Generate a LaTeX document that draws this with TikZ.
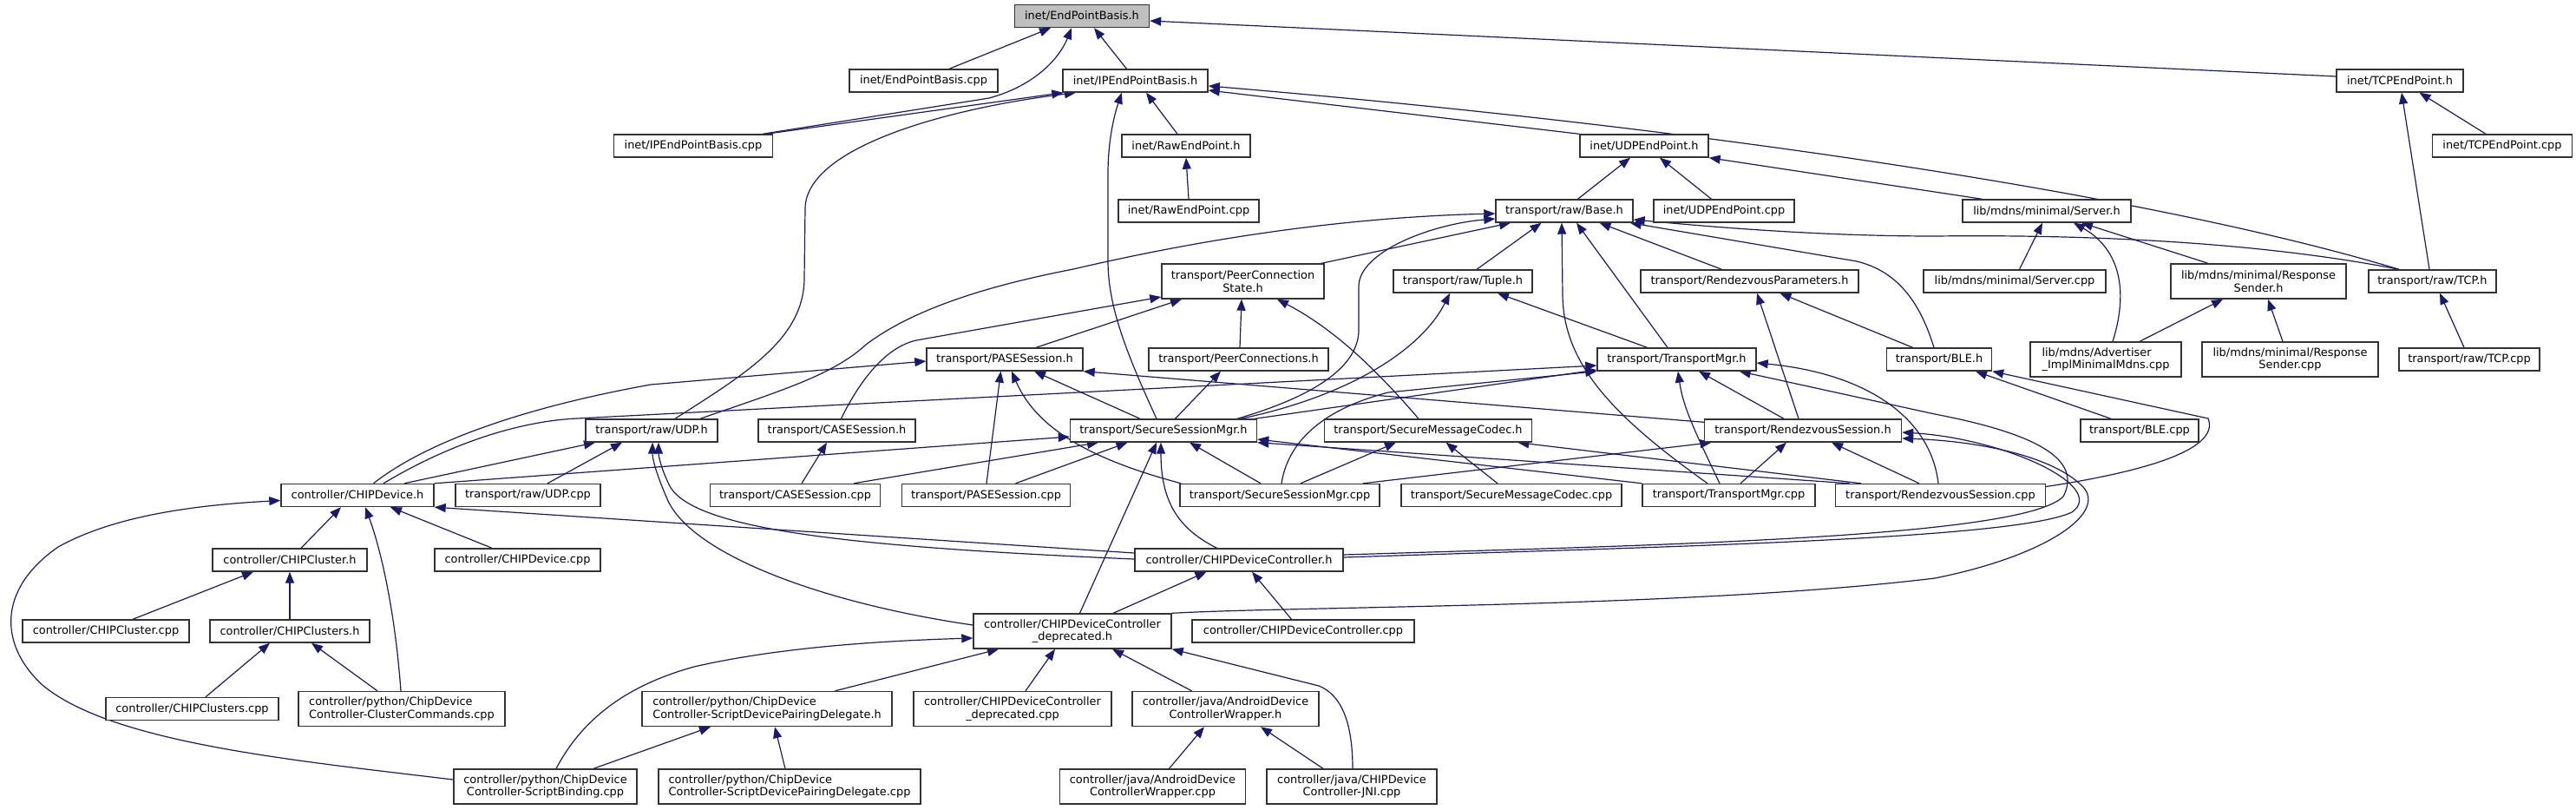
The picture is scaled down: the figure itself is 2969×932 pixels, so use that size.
\documentclass[tikz,border=0pt]{standalone}
\usepackage{fontspec}
\setmainfont{DejaVu Sans}
\usetikzlibrary{arrows.meta,calc,backgrounds}
\definecolor{navyc}{RGB}{25,25,112}
\definecolor{greyroot}{RGB}{191,191,191}
\newcommand{\dxfont}{\fontsize{12.9}{14.5}\selectfont}
\tikzset{
  box/.style={draw=black!80, line width=1.4pt, fill=white, inner sep=0pt, minimum height=26pt, font=\dxfont},
  boxc/.style={box, minimum height=40pt, align=center},
  boxl/.style={box, minimum height=40pt, align=left},
  edge/.style={draw=navyc, line width=1.2pt, -{Triangle[length=13pt,width=10pt]}},
}
\begin{document}
\begin{tikzpicture}[x=1pt,y=-1pt]
\useasboundingbox (0,0) rectangle (2969,932);
% row 1
\node[box, fill=greyroot, minimum width=155pt] (E) at (1247,18.5) {inet/EndPointBasis.h};
% row 2
\node[box, minimum width=171pt] (EPcpp) at (1064.5,93) {inet/EndPointBasis.cpp};
\node[box, minimum width=167pt] (IP) at (1308.5,93) {inet/IPEndPointBasis.h};
\node[box, minimum width=146pt] (TCPh) at (2766,93) {inet/TCPEndPoint.h};
% row 3
\node[box, minimum width=183pt] (IPcpp) at (799,168) {inet/IPEndPointBasis.cpp};
\node[box, minimum width=148pt] (RawH) at (1367,168) {inet/RawEndPoint.h};
\node[box, minimum width=148pt] (UDPEh) at (1895,168) {inet/UDPEndPoint.h};
\node[box, minimum width=161pt] (TCPcpp) at (2884,168) {inet/TCPEndPoint.cpp};
% row 4
\node[box, minimum width=162pt] (RawCpp) at (1370,243) {inet/RawEndPoint.cpp};
\node[box, minimum width=158pt] (Base) at (1803,243) {transport/raw/Base.h};
\node[box, minimum width=162pt] (UDPEcpp) at (1987,243) {inet/UDPEndPoint.cpp};
\node[box, minimum width=194pt] (Srv) at (2359,243) {lib/mdns/minimal/Server.h};
% row 5
\node[boxc, minimum width=187pt] (PCS) at (1432.5,324) {transport/PeerConnection\\State.h};
\node[box, minimum width=160pt] (Tuple) at (1686,324) {transport/raw/Tuple.h};
\node[box, minimum width=251pt] (RP) at (2016.5,324) {transport/RendezvousParameters.h};
\node[box, minimum width=210pt] (SrvCpp) at (2322,324) {lib/mdns/minimal/Server.cpp};
\node[boxc, minimum width=202pt] (RSh) at (2603,324) {lib/mdns/minimal/Response\\Sender.h};
\node[box, minimum width=147pt] (TCPr) at (2803.5,324) {transport/raw/TCP.h};
% row 6
\node[box, minimum width=180pt] (PASE) at (1158,414) {transport/PASESession.h};
\node[box, minimum width=207pt] (PC) at (1427.5,414) {transport/PeerConnections.h};
\node[box, minimum width=183pt] (TM) at (1932.5,414) {transport/TransportMgr.h};
\node[box, minimum width=121pt] (BLE) at (2235,414) {transport/BLE.h};
\node[boxl, minimum width=174pt] (Adv) at (2427,414) {lib/mdns/Advertiser\\\_ImplMinimalMdns.cpp};
\node[boxc, minimum width=203pt] (RScpp) at (2639.5,414) {lib/mdns/minimal/Response\\Sender.cpp};
\node[box, minimum width=162pt] (TCPrcpp) at (2846,414) {transport/raw/TCP.cpp};
% row 7
\node[box, minimum width=152pt] (UDP) at (751,496) {transport/raw/UDP.h};
\node[box, minimum width=181pt] (CASE) at (964.5,496) {transport/CASESession.h};
\node[box, minimum width=215pt] (SSM) at (1341,496) {transport/SecureSessionMgr.h};
\node[box, minimum width=239pt] (SMC) at (1646,496) {transport/SecureMessageCodec.h};
\node[box, minimum width=227pt] (RS) at (2078,496) {transport/RendezvousSession.h};
\node[box, minimum width=136pt] (BLEcpp) at (2466,496) {transport/BLE.cpp};
% row 8
\node[box, minimum width=176pt] (Dev) at (412,570.5) {controller/CHIPDevice.h};
\node[box, minimum width=167pt] (UDPcpp) at (608.5,570.5) {transport/raw/UDP.cpp};
\node[box, minimum width=196pt] (CASEcpp) at (916.5,570.5) {transport/CASESession.cpp};
\node[box, minimum width=194pt] (PASEcpp) at (1136.5,570.5) {transport/PASESession.cpp};
\node[box, minimum width=230pt] (SSMcpp) at (1475,570.5) {transport/SecureSessionMgr.cpp};
\node[box, minimum width=254pt] (SMCcpp) at (1742,570.5) {transport/SecureMessageCodec.cpp};
\node[box, minimum width=199pt] (TMcpp) at (1992.5,570.5) {transport/TransportMgr.cpp};
\node[box, minimum width=242pt] (RScpp2) at (2236.5,570.5) {transport/RendezvousSession.cpp};
% row 9
\node[box, minimum width=178pt] (Cl) at (334,645) {controller/CHIPCluster.h};
\node[box, minimum width=191pt] (DevCpp) at (596.5,645) {controller/CHIPDevice.cpp};
\node[box, minimum width=240pt] (DC) at (1428,645) {controller/CHIPDeviceController.h};
% row 10
\node[box, minimum width=192pt] (ClCpp) at (122,727) {controller/CHIPCluster.cpp};
\node[box, minimum width=184pt] (Cls) at (334,727) {controller/CHIPClusters.h};
\node[boxc, minimum width=228pt] (DCdep) at (1236,727) {controller/CHIPDeviceController\\\_deprecated.h};
\node[box, minimum width=256pt] (DCcpp) at (1502,727) {controller/CHIPDeviceController.cpp};
% row 11
\node[box, minimum width=199pt] (ClsCpp) at (221.5,816.5) {controller/CHIPClusters.cpp};
\node[boxl, minimum width=238pt] (CC) at (463,816.5) {controller/python/ChipDevice\\Controller-ClusterCommands.cpp};
\node[boxl, minimum width=288pt] (SPDh) at (884,816.5) {controller/python/ChipDevice\\Controller-ScriptDevicePairingDelegate.h};
\node[boxc, minimum width=228pt] (DCdepCpp) at (1167,816.5) {controller/CHIPDeviceController\\\_deprecated.cpp};
\node[boxc, minimum width=215pt] (ADCW) at (1412.5,816.5) {controller/java/AndroidDevice\\ControllerWrapper.h};
% row 12
\node[boxc, minimum width=211pt] (SB) at (628.5,906) {controller/python/ChipDevice\\Controller-ScriptBinding.cpp};
\node[boxl, minimum width=302pt] (SPDcpp) at (910,906) {controller/python/ChipDevice\\Controller-ScriptDevicePairingDelegate.cpp};
\node[boxc, minimum width=214pt] (ADCWcpp) at (1328.5,906) {controller/java/AndroidDevice\\ControllerWrapper.cpp};
\node[boxc, minimum width=196pt] (JNI) at (1558,906) {controller/java/CHIPDevice\\Controller-JNI.cpp};

\begin{scope}[on background layer]
\fill[white] (0,0) rectangle (2969,932);
\draw[edge] ($(EPcpp.north)+(29.5,0)$) -- ($(E.south)+(-36,0)$);
\draw[edge] ($(IPcpp.north)+(80,0)$) -- (1140,113) .. controls (1195,98) and (1222,65) .. ($(E.south)+(-12,0)$);
\draw[edge] ($(IP.north)+(-10,0)$) -- ($(E.south)+(14,0)$);
\draw[edge] ($(TCPh.west)+(0,-5)$) -- ($(E.east)+(0,5.5)$);
\draw[edge] ($(IPcpp.north)+(84,0)$) -- ($(IP.south west)+(1,0)$);
\draw[edge] ($(UDP.north)+(27,0)$) .. controls (860,430) and (927,390) .. (927,320) -- (928,240) .. controls (929,170) and (1090,125) .. ($(IP.south)+(-68.5,0)$);
\draw[edge] ($(SSM.north)+(-8,0)$) .. controls (1295,400) and (1277,350) .. (1277,300) -- (1277,200) .. controls (1277,160) and (1285,130) .. ($(IP.south)+(-15.5,0)$);
\draw[edge] ($(RawH.north)+(-10,0)$) -- ($(IP.south)+(12.5,0)$);
\draw[edge] (UDPEh.north west) -- ($(IP.east)+(0,11)$);
\draw[edge] ($(TCPr.north)+(-38.5,0)$) .. controls (2500,230) and (2000,150) .. ($(IP.east)+(0,6)$);
\draw[edge] (RawCpp.north) -- (RawH.south);
\draw[edge] ($(TCPcpp.north)+(-19,0)$) -- ($(TCPh.south)+(22.5,0)$);
\draw[edge] ($(TCPr.north)+(-3.5,0)$) -- ($(TCPh.south)+(2,0)$);
\draw[edge] ($(Base.north)+(15.5,0)$) -- ($(UDPEh.south)+(-16,0)$);
\draw[edge] ($(UDPEcpp.north)+(-14.5,0)$) -- ($(UDPEh.south)+(18,0)$);
\draw[edge] ($(Srv.north)+(-74.5,0)$) -- (UDPEh.south east);
\draw[edge] ($(SrvCpp.north)+(5.5,0)$) -- ($(Srv.south)+(-5,0)$);
\draw[edge] ($(Adv.north)+(8,0)$) .. controls (2455,330) and (2440,285) .. ($(Srv.south)+(31,0)$);
\draw[edge] ($(RSh.north)+(-58,0)$) -- ($(Srv.south)+(40,0)$);
\draw[edge] ($(Adv.north)+(39,0)$) -- ($(RSh.south)+(-41,0)$);
\draw[edge] ($(RScpp.north)+(-8.5,0)$) -- ($(RSh.south)+(11,0)$);
\draw[edge] ($(TCPrcpp.north)+(-6,0)$) -- ($(TCPr.south)+(8.5,0)$);
\draw[edge] ($(UDP.north)+(56,0)$) .. controls (900,450) and (960,432) .. (998,397) .. controls (1060,350) and (1160,325) .. (1237,310) .. controls (1400,272) and (1560,250) .. ($(Base.west)+(0,3)$);
\draw[edge] ($(SSM.north)+(85,0)$) .. controls (1520,455) and (1566,420) .. (1566,380) -- (1566,330) .. controls (1566,290) and (1650,258) .. ($(Base.west)+(0,9)$);
\draw[edge] ($(PCS.north)+(90.5,0)$) -- ($(Base.south)+(-62,0)$);
\draw[edge] ($(Tuple.north)+(16,0)$) -- ($(Base.south)+(-26.5,0)$);
\draw[edge] ($(TMcpp.north)+(-24.5,0)$) .. controls (1860,480) and (1802,420) .. (1801,340) -- ($(Base.south)+(-3,0)$);
\draw[edge] ($(TM.north)+(-10.5,0)$) -- ($(Base.south)+(14,0)$);
\draw[edge] ($(RP.north)+(-32,0)$) -- ($(Base.south)+(40.5,0)$);
\draw[edge] ($(BLE.north)+(-6,0)$) .. controls (2212,345) and (2185,312) .. (2140,301) -- ($(Base.south east)+(-4,0)$);
\draw[edge] ($(TCPr.north)+(-38.5,0)$) .. controls (2600,278) and (2400,270) .. (2230,272) .. controls (2100,272) and (1980,262) .. ($(Base.east)+(0,10)$);
\draw[edge] ($(CASE.north)+(5,0)$) .. controls (990,440) and (1020,400) .. (1056,392) -- ($(PCS.west)+(0,18)$);
\draw[edge] ($(PASE.north)+(36,0)$) -- ($(PCS.south)+(-70.5,0)$);
\draw[edge] ($(PC.north)+(1.5,0)$) -- ($(PCS.south)+(-1.5,0)$);
\draw[edge] ($(SMC.north)+(-11,0)$) .. controls (1590,430) and (1540,380) .. ($(PCS.south)+(39.5,0)$);
\draw[edge] ($(SSM.north)+(89,0)$) .. controls (1560,455) and (1640,400) .. ($(Tuple.south)+(-15,0)$);
\draw[edge] ($(TM.north)+(-34,0)$) -- ($(Tuple.south)+(40,0)$);
\draw[edge] ($(RS.north)+(-5,0)$) -- ($(RP.south)+(8.5,0)$);
\draw[edge] ($(BLE.north)+(-30.5,0)$) -- ($(RP.south)+(35,0)$);
\draw[edge] ($(Dev.north)+(18.5,0)$) .. controls (490,510) and (600,470) .. (750,443) -- ($(PASE.west)+(0,2)$);
\draw[edge] ($(PASEcpp.north)+(0.5,0)$) -- ($(PASE.south)+(-4.5,0)$);
\draw[edge] ($(SSMcpp.north west)+(2,0)$) .. controls (1260,530) and (1195,495) .. ($(PASE.south)+(8,0)$);
\draw[edge] ($(SSM.north)+(-27,0)$) -- ($(PASE.south)+(34,0)$);
\draw[edge] ($(RS.north west)+(0,4)$) -- (PASE.south east);
\draw[edge] ($(SSM.north)+(13.5,0)$) -- ($(PC.south)+(-20.5,0)$);
\draw[edge] ($(Dev.north)+(30,0)$) .. controls (520,510) and (600,485) .. (665,482) -- ($(TM.west)+(0,7)$);
\draw[edge] ($(SSM.north east)+(-3,0)$) -- ($(TM.west)+(0,12)$);
\draw[edge] ($(SSMcpp.north)+(2,0)$) .. controls (1485,505) and (1530,470) .. (1600,452) -- (TM.south west);
\draw[edge] ($(TMcpp.north)+(-10.5,0)$) .. controls (1955,500) and (1940,470) .. ($(TM.south)+(1.5,0)$);
\draw[edge] ($(RS.north)+(-22,0)$) -- ($(TM.south)+(25.5,0)$);
\draw[edge] ($(DC.east)+(0,-6)$) .. controls (1900,628) and (2330,620) .. (2378,572) .. controls (2400,530) and (2350,500) .. (2230,477) -- ($(TM.south east)+(-20,0)$);
\draw[edge] ($(RScpp2.north)+(-2.5,0)$) .. controls (2225,480) and (2150,430) .. ($(TM.east)+(0,4)$);
\draw[edge] ($(BLEcpp.north)+(-33,0)$) -- ($(BLE.south)+(42,0)$);
\draw[edge] ($(RScpp2.east)+(0,-10)$) .. controls (2460,545) and (2560,520) .. (2545,482) -- (BLE.south east);
\draw[edge] ($(Dev.north)+(54,0)$) -- ($(UDP.south)+(-65,0)$);
\draw[edge] ($(UDPcpp.north)+(22.5,0)$) -- ($(UDP.south)+(-34,0)$);
\draw[edge] ($(DCdep.west)+(0,-7)$) .. controls (950,695) and (800,640) .. (770,577) .. controls (758,550) and (752,530) .. ($(UDP.south)+(1,0)$);
\draw[edge] ($(DC.west)+(0,-1)$) .. controls (980,630) and (800,610) .. (772,560) .. controls (762,540) and (759,525) .. ($(UDP.south)+(8,0)$);
\draw[edge] ($(CASEcpp.north)+(7.5,0)$) -- ($(CASE.south)+(-11.5,0)$);
\draw[edge] (Dev.north east) -- ($(SSM.west)+(0,7)$);
\draw[edge] ($(CASEcpp.north)+(67.5,0)$) -- ($(SSM.south)+(-75,0)$);
\draw[edge] ($(PASEcpp.north)+(34,0)$) -- ($(SSM.south)+(-41.5,0)$);
\draw[edge] ($(DCdep.north)+(8.5,0)$) -- ($(SSM.south)+(-8,0)$);
\draw[edge] ($(DC.north)+(-25.5,0)$) .. controls (1360,610) and (1338,580) .. ($(SSM.south)+(-3,0)$);
\draw[edge] ($(SSMcpp.north)+(-22,0)$) -- ($(SSM.south)+(30,0)$);
\draw[edge] (TMcpp.north west) -- ($(SSM.east)+(0,10)$);
\draw[edge] ($(RScpp2.north)+(-105,0)$) -- (SSM.south east);
\draw[edge] ($(SSMcpp.north)+(24,0)$) -- ($(SMC.south)+(-37,0)$);
\draw[edge] ($(SMCcpp.north)+(-16,0)$) -- ($(SMC.south)+(20.5,0)$);
\draw[edge] ($(RScpp2.north)+(-91.5,0)$) -- ($(SMC.south east)+(-17,0)$);
\draw[edge] ($(SSMcpp.north)+(96,0)$) -- ($(RS.south)+(-105.5,0)$);
\draw[edge] ($(TMcpp.north)+(13.5,0)$) -- ($(RS.south)+(-19,0)$);
\draw[edge] ($(RScpp2.north)+(-24.5,0)$) -- ($(RS.south)+(33,0)$);
\draw[edge] ($(DC.east)+(0,-3)$) .. controls (1900,630) and (2320,622) .. (2388,590) .. controls (2430,560) and (2310,505) .. ($(RS.east)+(0,2)$);
\draw[edge] (DCdep.north east) .. controls (1500,698) and (1950,700) .. (2230,666) .. controls (2360,640) and (2430,590) .. (2400,560) .. controls (2365,525) and (2280,508) .. ($(RS.east)+(0,9)$);
\draw[edge] ($(DCdep.north)+(47,0)$) -- ($(DC.south)+(-37.5,0)$);
\draw[edge] ($(DCcpp.north)+(-13.5,0)$) -- ($(DC.south)+(15,0)$);
\draw[edge] ($(DC.west)+(0,-8)$) -- (Dev.south east);
\draw[edge] ($(Cl.north)+(13,0)$) -- ($(Dev.south)+(-19,0)$);
\draw[edge] ($(CC.north)+(-1,0)$) .. controls (455,700) and (438,630) .. ($(Dev.south)+(9,0)$);
\draw[edge] ($(DevCpp.north)+(-29.5,0)$) -- ($(Dev.south)+(38,0)$);
\draw[edge] ($(SB.west)+(0,-8)$) .. controls (330,875) and (130,855) .. (50,790) .. controls (0,745) and (-5,680) .. (67,630) .. controls (130,595) and (220,582) .. ($(Dev.west)+(0,6)$);
\draw[edge] ($(ClCpp.north)+(31,0)$) -- ($(Cl.south)+(-42,0)$);
\draw[edge] (Cls.north) -- (Cl.south);
\draw[edge] ($(ClsCpp.north)+(15.5,0)$) -- ($(Cls.south)+(-23,0)$);
\draw[edge] ($(CC.north)+(-28,0)$) -- ($(Cls.south)+(25,0)$);
\draw[edge] ($(SB.north)+(12.5,0)$) .. controls (670,830) and (720,790) .. (800,768) .. controls (900,745) and (1020,738) .. ($(DCdep.west)+(0,8)$);
\draw[edge] ($(SPDh.north)+(78.5,0)$) -- ($(DCdep.south)+(-85,0)$);
\draw[edge] ($(DCdepCpp.north)+(15,0)$) -- ($(DCdep.south)+(-20,0)$);
\draw[edge] ($(ADCW.north)+(-39,0)$) -- ($(DCdep.south)+(46,0)$);
\draw[edge] ($(JNI.north)+(1,0)$) .. controls (1559,830) and (1545,800) .. (1520,790) -- (DCdep.south east);
\draw[edge] ($(SB.north)+(55.5,0)$) -- ($(SPDh.south)+(-65,0)$);
\draw[edge] ($(SPDcpp.north)+(-5,0)$) -- ($(SPDh.south)+(9,0)$);
\draw[edge] ($(ADCWcpp.north)+(19,0)$) -- ($(ADCW.south)+(-24.5,0)$);
\draw[edge] ($(JNI.north)+(-33,0)$) -- ($(ADCW.south)+(40.5,0)$);
\end{scope}
\end{tikzpicture}
\end{document}
